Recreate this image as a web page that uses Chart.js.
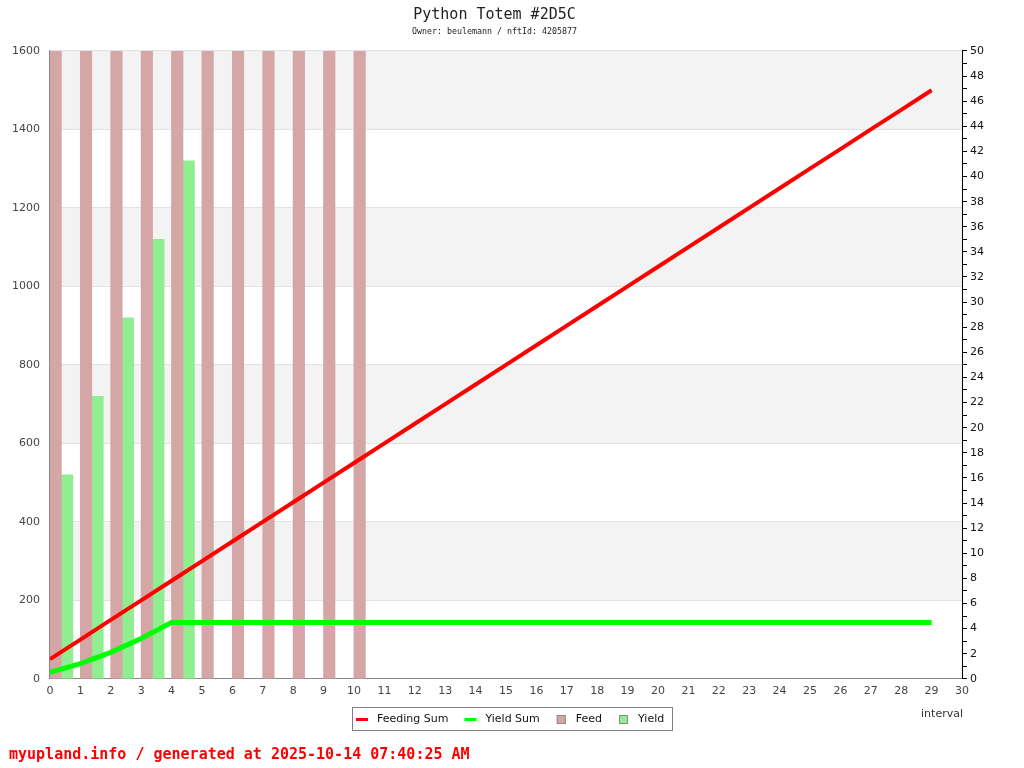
<!DOCTYPE html>
<html>
<head>
<meta charset="utf-8">
<script src="https://cdn.jsdelivr.net/npm/chart.js@4"></script>
<style>
  html, body { margin: 0; padding: 0; background: #fff; }
  #wrap { width: 1024px; height: 768px; }
</style>
</head>
<body>
<div id="wrap"><canvas id="totemChart" width="1024" height="768"></canvas></div>
<script>
// chart values
const intervals = [0, 1, 2, 3, 4, 5, 6, 7, 8, 9, 10, 11, 12, 13, 14, 15, 16, 17, 18, 19, 20, 21, 22, 23, 24, 25, 26, 27, 28, 29];
const feedingSum = [50, 100, 150, 200, 250, 300, 350, 400, 450, 500, 550, 600, 650, 700, 750, 800, 850, 900, 950, 1000, 1050, 1100, 1150, 1200, 1250, 1300, 1350, 1400, 1450, 1500];
const yieldSum = [16.25, 38.75, 67.5, 102.5, 143.75, 143.75, 143.75, 143.75, 143.75, 143.75, 143.75, 143.75, 143.75, 143.75, 143.75, 143.75, 143.75, 143.75, 143.75, 143.75, 143.75, 143.75, 143.75, 143.75, 143.75, 143.75, 143.75, 143.75, 143.75, 143.75];
const feedIntervals = [0, 1, 2, 3, 4, 5, 6, 7, 8, 9, 10];
const feed = [50, 50, 50, 50, 50, 50, 50, 50, 50, 50, 50];
const yieldIntervals = [0, 1, 2, 3, 4];
const yieldValues = [16.25, 22.5, 28.75, 35, 41.25];

const titleText = 'Python Totem #2D5C';
const subtitleText = 'Owner: beulemann / nftId: 4205877';
const footerText = 'myupland.info / generated at 2025-10-14 07:40:25 AM';
const xAxisLabel = 'interval';

function pairs(xs, ys) {
    return xs.map((x, i) => ({ x: x, y: ys[i] }));
}

// alternating background bands, legend box and extra texts
const decorations = {
    id: 'decorations',
    beforeDraw(chart) {
        const ctx = chart.ctx;
        const area = chart.chartArea;
        const y = chart.scales.y;
        ctx.save();
        ctx.fillStyle = '#f3f3f3';
        for (let i = 1; i < y.ticks.length - 1; i += 2) {
            const top = y.getPixelForValue(y.ticks[i + 1].value);
            const bottom = y.getPixelForValue(y.ticks[i].value);
            ctx.fillRect(area.left, top, area.right - area.left, bottom - top);
        }
        ctx.restore();
    },
    afterDraw(chart) {
        const ctx = chart.ctx;
        ctx.save();

        // legend
        ctx.font = '11px "DejaVu Sans"';
        const items = chart.data.datasets.map(ds => ({
            text: ds.label,
            line: ds.type === 'line',
            color: ds.type === 'line' ? ds.borderColor : ds.backgroundColor,
            w: ctx.measureText(ds.label).width
        }));
        const itemW = it => (it.line ? 21 : 20) + it.w;
        let total = 4 + 8;
        items.forEach((it, i) => { total += itemW(it) + (i < items.length - 1 ? 16 : 0); });
        const boxLeft = Math.round(512 - total / 2);
        const boxTop = 707;
        ctx.strokeStyle = '#808080';
        ctx.lineWidth = 1;
        ctx.strokeRect(boxLeft + 0.5, boxTop + 0.5, Math.round(total), 23);
        let cx = boxLeft + 4;
        const cy = boxTop + 12;
        ctx.textBaseline = 'middle';
        ctx.textAlign = 'left';
        items.forEach(it => {
            ctx.fillStyle = it.color;
            if (it.line) {
                ctx.fillRect(cx, cy - 1, 12, 3);
            } else {
                ctx.fillRect(cx + 1, cy - 4, 9, 9);
                ctx.strokeStyle = '#888888';
                ctx.strokeRect(cx + 1.5, cy - 3.5, 8, 8);
            }
            ctx.fillStyle = '#111';
            ctx.fillText(it.text, cx + (it.line ? 21 : 20), cy);
            cx += itemW(it) + 16;
        });

        // axis name
        ctx.fillStyle = '#333';
        ctx.font = '11px "DejaVu Sans"';
        ctx.textAlign = 'right';
        ctx.fillText(xAxisLabel, chart.chartArea.right + 1, 714);

        // footer
        ctx.fillStyle = '#ff0000';
        ctx.font = 'bold 15px "DejaVu Sans Mono"';
        ctx.textAlign = 'left';
        ctx.fillText(footerText, 9, 755);
        ctx.restore();
    }
};

const ctx = document.getElementById('totemChart');
new Chart(ctx, {
    type: 'bar',
    data: {
        datasets: [{
            type: 'line',
            label: 'Feeding Sum',
            data: pairs(intervals, feedingSum),
            xAxisID: 'x',
            yAxisID: 'y',
            borderColor: '#ff0000',
            backgroundColor: '#ff0000',
            borderWidth: 4,
            pointRadius: 0,
            tension: 0,
            order: 0
        }, {
            type: 'line',
            label: 'Yield Sum',
            data: pairs(intervals, yieldSum),
            xAxisID: 'x',
            yAxisID: 'y',
            borderColor: '#00ff00',
            backgroundColor: '#00ff00',
            borderWidth: 5,
            pointRadius: 0,
            tension: 0,
            order: 0
        }, {
            label: 'Feed',
            data: pairs(feedIntervals, feed),
            xAxisID: 'xb',
            yAxisID: 'y2',
            backgroundColor: '#d4a6a6',
            borderWidth: 0,
            barThickness: 11.5,
            order: 1
        }, {
            label: 'Yield',
            data: pairs(yieldIntervals, yieldValues),
            xAxisID: 'xb',
            yAxisID: 'y2',
            backgroundColor: '#90ee90',
            borderWidth: 0,
            barThickness: 11.5,
            order: 1
        }]
    },
    options: {
        responsive: false,
        animation: false,
        events: [],
        layout: {
            padding: { left: 2, right: 37, top: 2, bottom: 64 }
        },
        plugins: {
            title: {
                display: true,
                text: titleText,
                color: '#222',
                font: { family: 'DejaVu Sans Mono', size: 15, weight: 'normal' },
                padding: { top: 4, bottom: 3 }
            },
            subtitle: {
                display: true,
                text: subtitleText,
                color: '#222',
                font: { family: 'DejaVu Sans Mono', size: 8.3 },
                padding: { top: 0, bottom: 14 }
            },
            legend: { display: false },
            tooltip: { enabled: false }
        },
        scales: {
            x: {
                type: 'linear',
                min: 0,
                max: 30,
                offset: false,
                position: 'bottom',
                grid: { display: false, drawTicks: false },
                border: { display: true, color: '#888' },
                ticks: {
                    stepSize: 1,
                    autoSkip: false,
                    color: '#444',
                    font: { family: 'DejaVu Sans', size: 11 },
                    padding: 6,
                    maxRotation: 0
                }
            },
            // bar groups sit between an interval and its midpoint
            xb: {
                type: 'linear',
                min: -0.375,
                max: 29.625,
                display: false,
                offset: false
            },
            y: {
                position: 'left',
                min: 0,
                max: 1600,
                grid: { color: '#e2e2e2', drawTicks: false },
                border: { display: true, color: '#888' },
                ticks: {
                    stepSize: 200,
                    color: '#444',
                    font: { family: 'DejaVu Sans', size: 11 },
                    padding: 10,
                    callback: v => String(v)
                }
            },
            y2: {
                position: 'right',
                min: 0,
                max: 50,
                grid: { drawOnChartArea: false, drawTicks: true, tickLength: 5, color: '#000' },
                border: { display: true, color: '#000' },
                ticks: {
                    stepSize: 1,
                    autoSkip: false,
                    color: '#111',
                    font: { family: 'DejaVu Sans', size: 11 },
                    padding: 3,
                    callback: v => (v % 2 === 0 ? String(v) : '')
                }
            }
        }
    },
    plugins: [decorations]
});
</script>
</body>
</html>
